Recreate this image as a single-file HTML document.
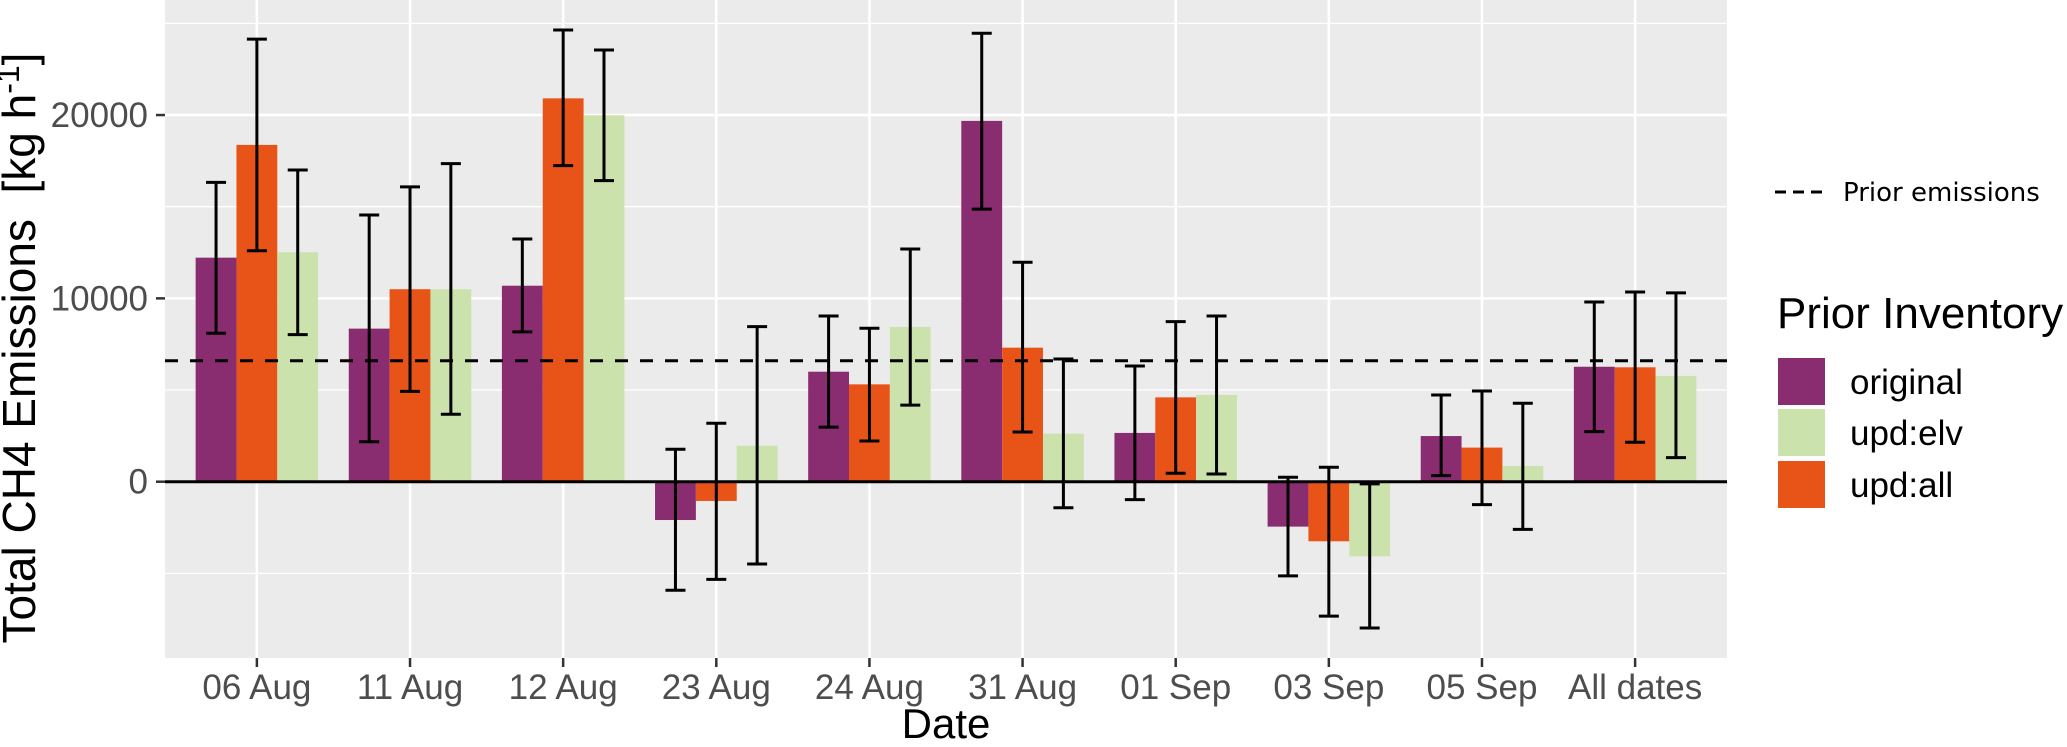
<!DOCTYPE html>
<html><head><meta charset="utf-8"><style>
html,body{margin:0;padding:0;background:#fff;}
svg{display:block;}
</style></head><body>
<svg id="chart" width="2067" height="747" viewBox="0 0 2067 747" xmlns="http://www.w3.org/2000/svg">
  <rect x="165" y="0" width="1562" height="658" fill="#EBEBEB"/>
  <g id="grid"></g>
  <g id="bars"></g>
  <g id="errs"></g>
  <g id="axes"></g>
  <text xml:space="preserve" transform="translate(35,348) rotate(-90)" text-anchor="middle" font-family="Liberation Sans, sans-serif" font-size="46" fill="#000">Total CH4 Emissions  [kg h<tspan font-size="32" dy="-16">-1</tspan><tspan dy="16">]</tspan></text>
  <text x="946" y="738" text-anchor="middle" font-family="Liberation Sans, sans-serif" font-size="42" fill="#000">Date</text>
  <g>
    <line x1="1775" y1="192" x2="1823" y2="192" stroke="#000" stroke-width="3" stroke-dasharray="11,7"/>
    <text x="1843" y="201" font-family="DejaVu Sans, sans-serif" font-size="26" fill="#000">Prior emissions</text>
  </g>
  <g>
    <text x="1777" y="328" font-family="Liberation Sans, sans-serif" font-size="44" fill="#000">Prior Inventory</text>
    <rect x="1778" y="358" width="47" height="47" fill="#8A2C70"/>
    <rect x="1778" y="409" width="47" height="47" fill="#CBE2AC"/>
    <rect x="1778" y="461" width="47" height="47" fill="#E85417"/>
    <text x="1850" y="394" font-family="Liberation Sans, sans-serif" font-size="35" fill="#000">original</text>
    <text x="1850" y="445" font-family="Liberation Sans, sans-serif" font-size="35" fill="#000">upd:elv</text>
    <text x="1850" y="497" font-family="Liberation Sans, sans-serif" font-size="35" fill="#000">upd:all</text>
  </g>
</svg>
<script>
const categories = ["06 Aug","11 Aug","12 Aug","23 Aug","24 Aug","31 Aug","01 Sep","03 Sep","05 Sep","All dates"];
const originalVals = [12220, 8350, 10690, -2090, 6000, 19680, 2660, -2450, 2490, 6270];
const originalLow  = [8100, 2180, 8170, -5920, 2980, 14870, -980, -5140, 330, 2730];
const originalHigh = [16330, 14550, 13240, 1770, 9040, 24460, 6310, 240, 4730, 9800];
const updAllVals = [18370, 10500, 20910, -1050, 5310, 7310, 4600, -3250, 1860, 6240];
const updAllLow  = [12600, 4930, 17240, -5330, 2220, 2710, 460, -7330, -1250, 2150];
const updAllHigh = [24140, 16080, 24640, 3190, 8370, 11970, 8730, 790, 4950, 10350];
const updElvVals = [12515, 10500, 19985, 1960, 8440, 2620, 4730, -4070, 860, 5770];
const updElvLow  = [8020, 3680, 16420, -4490, 4180, -1420, 420, -7980, -2600, 1310];
const updElvHigh = [17000, 17350, 23550, 8460, 12690, 6690, 9040, -120, 4280, 10300];
const priorEmission = 6600;
const yTicks = [0, 10000, 20000];
const yTickLabels = ["0", "10000", "20000"];
const yMinor = [-5000, 5000, 15000, 25000];

const NS = "http://www.w3.org/2000/svg";
const PL = 165, PR = 1727, PT = 0, PB = 658;
function yScale(v){ return 481.7 - v * 0.018333; }
const step = (PR - PL) / (categories.length + 0.2);
function xScale(i){ return PL + step * 0.6 + i * step; }
const barW = step * 0.8 / 3;
function mk(tag, attrs, parent){ const e = document.createElementNS(NS, tag); for (const k in attrs) e.setAttribute(k, attrs[k]); parent.appendChild(e); return e; }

const grid = document.getElementById('grid');
yMinor.forEach(v => {
  const l = mk('line', {x1: PL, x2: PR, y1: yScale(v), y2: yScale(v), stroke: '#fff', 'stroke-width': 1.3}, grid);
  
  
});
yTicks.forEach(v => {
  const l = mk('line', {x1: PL, x2: PR, y1: yScale(v), y2: yScale(v), stroke: '#fff', 'stroke-width': 2.6}, grid);
  
  
});
categories.forEach((c, i) => {
  const l = mk('line', {x1: xScale(i), x2: xScale(i), y1: PT, y2: PB, stroke: '#fff', 'stroke-width': 2.6}, grid);
  
  
});

const series = [
  {name: 'original', vals: originalVals, lo: originalLow, hi: originalHigh, color: '#8A2C70', off: -1},
  {name: 'upd-all', vals: updAllVals, lo: updAllLow, hi: updAllHigh, color: '#E85417', off: 0},
  {name: 'upd-elv', vals: updElvVals, lo: updElvLow, hi: updElvHigh, color: '#CBE2AC', off: 1}
];
const bars = document.getElementById('bars');
const errs = document.getElementById('errs');
series.forEach(s => {
  categories.forEach((c, i) => {
    const cx = xScale(i) + s.off * barW;
    const y0 = yScale(0), y1 = yScale(s.vals[i]);
    const r = mk('rect', {x: cx - barW / 2, y: Math.min(y0, y1), width: barW, height: Math.abs(y1 - y0), fill: s.color}, bars);
    
    
    const g = mk('g', {stroke: '#000', 'stroke-width': 3}, errs);
    
    
    const yl = yScale(s.lo[i]), yh = yScale(s.hi[i]);
    mk('line', {x1: cx, x2: cx, y1: yl, y2: yh}, g);
    mk('line', {x1: cx - 10, x2: cx + 10, y1: yl, y2: yl}, g);
    mk('line', {x1: cx - 10, x2: cx + 10, y1: yh, y2: yh}, g);
  });
});

const axes = document.getElementById('axes');
const zl = mk('line', {x1: PL, x2: PR, y1: yScale(0), y2: yScale(0), stroke: '#000', 'stroke-width': 3}, axes);


const pl = mk('line', {x1: PL, x2: PR, y1: yScale(priorEmission), y2: yScale(priorEmission), stroke: '#000', 'stroke-width': 3, 'stroke-dasharray': '13,12'}, axes);


yTicks.forEach((v, i) => {
  const y = yScale(v);
  mk('line', {x1: PL - 9, x2: PL, y1: y, y2: y, stroke: '#333', 'stroke-width': 2.5}, axes);
  const t = mk('text', {x: PL - 17, y: y + 12, 'text-anchor': 'end', 'font-family': 'Liberation Sans, sans-serif', 'font-size': 35, fill: '#4D4D4D'}, axes);
  t.textContent = yTickLabels[i];
  
  
});
categories.forEach((c, i) => {
  const x = xScale(i);
  mk('line', {x1: x, x2: x, y1: PB, y2: PB + 9, stroke: '#333', 'stroke-width': 2.5}, axes);
  const t = mk('text', {x: x, y: 699, 'text-anchor': 'middle', 'font-family': 'Liberation Sans, sans-serif', 'font-size': 35, fill: '#4D4D4D'}, axes);
  t.textContent = c;
  
  
});
</script>
</body></html>
